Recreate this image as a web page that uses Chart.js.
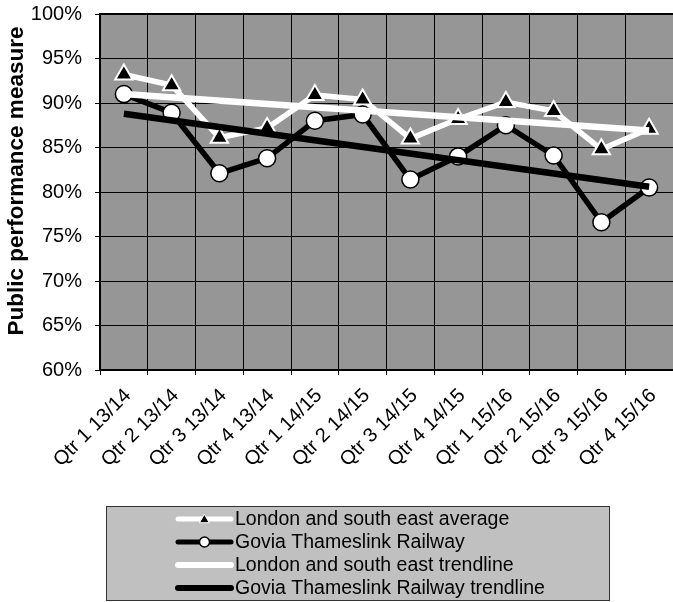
<!DOCTYPE html>
<html>
<head>
<meta charset="utf-8">
<script src="https://cdn.jsdelivr.net/npm/chart.js@4/dist/chart.umd.min.js"></script>
<style>
  html, body { margin: 0; padding: 0; background: #fff; }
</style>
</head>
<body>
<canvas id="ppmChart" width="673" height="602"></canvas>
<script>
const quarters = ['Qtr 1 13/14', 'Qtr 2 13/14', 'Qtr 3 13/14', 'Qtr 4 13/14',
  'Qtr 1 14/15', 'Qtr 2 14/15', 'Qtr 3 14/15', 'Qtr 4 14/15',
  'Qtr 1 15/16', 'Qtr 2 15/16', 'Qtr 3 15/16', 'Qtr 4 15/16'];
const lseAverage = [93.2, 92.0, 86.1, 87.2, 90.9, 90.4, 86.0, 88.2, 90.1, 89.1, 84.8, 87.1];
const gtrValues = [91.0, 88.9, 82.1, 83.8, 88.0, 88.7, 81.4, 84.0, 87.5, 84.1, 76.6, 80.5];
// trendlines: value at first and last quarter
const lseTrendEnds = [91.0, 86.9];
const gtrTrendEnds = [88.8, 80.6];
const yMin = 60, yMax = 100, yStep = 5;
const yTitle = 'Public performance measure';

const FONT = "'Liberation Sans', Arial, sans-serif";

function trendPoints(ends) {
  return [
    { x: quarters[0], y: ends[0] },
    { x: quarters[quarters.length - 1], y: ends[1] }
  ];
}

// grey plot area + thick top border
const plotFrame = {
  id: 'plotFrame',
  beforeDraw(chart) {
    const { ctx, chartArea: a } = chart;
    ctx.save();
    ctx.fillStyle = '#969696';
    ctx.fillRect(a.left, a.top, a.right - a.left, a.bottom - a.top);
    ctx.restore();
  },
  beforeDatasetsDraw(chart) {
    const { ctx, chartArea: a } = chart;
    ctx.save();
    ctx.strokeStyle = '#000';
    ctx.lineWidth = 2;
    ctx.beginPath();
    ctx.moveTo(a.left, a.top);
    ctx.lineTo(a.right + 5, a.top);
    ctx.stroke();
    ctx.restore();
  }
};

// rotated y axis title
const axisTitle = {
  id: 'axisTitle',
  afterDraw(chart) {
    const ctx = chart.ctx;
    ctx.save();
    ctx.translate(17, 181);
    ctx.rotate(-Math.PI / 2);
    ctx.font = 'bold 22.5px ' + FONT;
    ctx.fillStyle = '#000';
    ctx.textAlign = 'center';
    ctx.textBaseline = 'middle';
    ctx.fillText(yTitle, 0, 0);
    ctx.restore();
  }
};

// Excel style legend box with line + marker samples
const boxLegend = {
  id: 'boxLegend',
  afterDraw(chart) {
    const ctx = chart.ctx;
    const box = { left: 106.5, top: 506.5, right: 609.5, bottom: 600.5 };
    ctx.save();
    ctx.fillStyle = '#c0c0c0';
    ctx.fillRect(box.left, box.top, box.right - box.left, box.bottom - box.top);
    ctx.strokeStyle = '#333';
    ctx.lineWidth = 1;
    ctx.strokeRect(box.left, box.top, box.right - box.left, box.bottom - box.top);

    chart.data.datasets.forEach(function (ds, i) {
      const y = 519 + i * 23;
      ctx.strokeStyle = ds.borderColor;
      ctx.lineWidth = ds.legendLine;
      ctx.lineCap = 'round';
      ctx.beginPath();
      ctx.moveTo(178, y);
      ctx.lineTo(231, y);
      ctx.stroke();
      if (ds.pointRadius > 0) {
        const tri = ds.pointStyle === 'triangle';
        ctx.fillStyle = ds.pointBackgroundColor;
        ctx.strokeStyle = ds.pointBorderColor;
        ctx.lineWidth = tri ? 1 : 1.5;
        Chart.helpers.drawPoint(ctx, {
          pointStyle: ds.pointStyle,
          radius: tri ? 5.5 : 5,
          borderWidth: ctx.lineWidth,
          rotation: 0
        }, 204.5, tri ? y + 1 : y);
      }
      ctx.fillStyle = '#000';
      ctx.font = '19.5px ' + FONT;
      ctx.textAlign = 'left';
      ctx.textBaseline = 'middle';
      ctx.fillText(ds.label, 235, y + 1);
    });
    ctx.restore();
  }
};

const ctx = document.getElementById('ppmChart').getContext('2d');
new Chart(ctx, {
  type: 'line',
  data: {
    labels: quarters,
    datasets: [{
      label: 'London and south east average',
      data: lseAverage,
      borderColor: '#fff',
      borderWidth: 5.5,
      pointStyle: 'triangle',
      pointRadius: 10,
      pointBackgroundColor: '#000',
      pointBorderColor: '#fff',
      pointBorderWidth: 2,
      legendLine: 5,
      order: 3
    }, {
      label: 'Govia Thameslink Railway',
      data: gtrValues,
      borderColor: '#000',
      borderWidth: 5.5,
      pointStyle: 'circle',
      pointRadius: 8.5,
      pointBackgroundColor: '#fff',
      pointBorderColor: '#000',
      pointBorderWidth: 1.5,
      legendLine: 5,
      order: 2
    }, {
      label: 'London and south east trendline',
      data: trendPoints(lseTrendEnds),
      borderColor: '#fff',
      borderWidth: 6.5,
      pointRadius: 0,
      legendLine: 6,
      order: 1
    }, {
      label: 'Govia Thameslink Railway trendline',
      data: trendPoints(gtrTrendEnds),
      borderColor: '#000',
      borderWidth: 6.5,
      pointRadius: 0,
      legendLine: 6,
      order: 0
    }]
  },
  options: {
    responsive: false,
    animation: false,
    layout: { autoPadding: false, padding: { top: 14, right: -2, bottom: 132, left: 0 } },
    plugins: {
      legend: { display: false },
      tooltip: { enabled: false }
    },
    elements: { line: { tension: 0, borderCapStyle: 'butt', borderJoinStyle: 'round' } },
    scales: {
      x: {
        offset: true,
        grid: { offset: true, color: '#000', lineWidth: 1, tickColor: '#000', tickLength: 5 },
        border: { color: '#000', width: 2 },
        ticks: {
          color: '#000',
          font: { family: FONT, size: 20 },
          minRotation: 45,
          maxRotation: 45,
          autoSkip: false,
          padding: 9,
          labelOffset: 4
        },
        afterFit: function (scale) {
          scale.height = 100;
          scale.paddingLeft = 0;
          scale.paddingRight = 0;
        }
      },
      y: {
        min: yMin,
        max: yMax,
        grid: { color: '#000', lineWidth: 1, tickColor: '#000', tickLength: 5 },
        border: { color: '#000', width: 2 },
        ticks: {
          stepSize: yStep,
          color: '#000',
          font: { family: FONT, size: 20 },
          padding: 13,
          callback: function (value) { return value + '%'; }
        },
        afterFit: function (scale) {
          scale.width = 100;
          scale.paddingTop = 0;
          scale.paddingBottom = 0;
        }
      }
    }
  },
  plugins: [plotFrame, axisTitle, boxLegend]
});
</script>
</body>
</html>
